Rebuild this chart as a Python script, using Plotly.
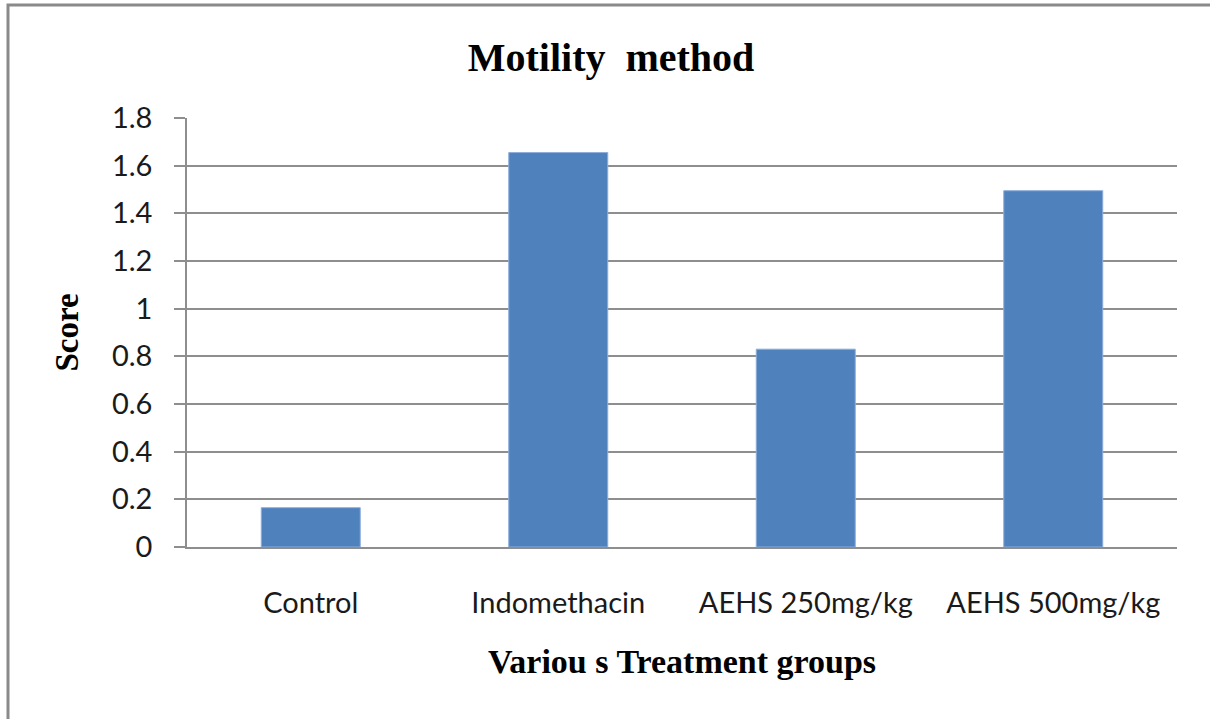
import plotly.graph_objects as go

categories = ["Control", "Indomethacin", "AEHS 250mg/kg", "AEHS 500mg/kg"]
scores = [0.165, 1.655, 0.83, 1.495]
y_ticks = [0, 0.2, 0.4, 0.6, 0.8, 1.0, 1.2, 1.4, 1.6, 1.8]
y_tick_labels = ["0", "0.2", "0.4", "0.6", "0.8", "1", "1.2", "1.4", "1.6", "1.8"]

W, H = 1210, 719
L, R, T, B = 187, 33, 118, 172
pw, ph = W - L - R, H - T - B

def px_to_paper_x(px):
    return (px - L) / pw

def px_to_paper_y(py):
    return (H - B - py) / ph

fig = go.Figure()
fig.add_trace(go.Bar(
    x=categories, y=scores,
    marker=dict(color="#4f81bd", line=dict(color="#8eaedb", width=1)),
))

grid = "#8e8e8e"
tick_font = dict(family="Lato, Liberation Sans", size=29, color="#1a1a1a")
fig.update_layout(
    width=W, height=H,
    margin=dict(l=L, r=R, t=T, b=B, autoexpand=False),
    paper_bgcolor="white", plot_bgcolor="white",
    bargap=0.6,
    showlegend=False,
    title=dict(
        text="Motility&nbsp;&nbsp;method",
        font=dict(family="Liberation Serif", size=40, color="black", weight="bold"),
        x=0.505, xanchor="center", xref="container",
        y=1 - 57 / H, yanchor="middle", yref="container",
    ),
    xaxis=dict(
        showgrid=False, showline=True, linecolor=grid, linewidth=1.5,
        ticks="", tickfont=tick_font,
        ticklabelstandoff=29,
        title=dict(text="Variou s Treatment groups",
                   font=dict(family="Liberation Serif", size=34, color="black", weight="bold"),
                   standoff=32),
    ),
    yaxis=dict(
        range=[0, 1.8], tickvals=y_ticks, ticktext=y_tick_labels,
        showgrid=True, gridcolor=grid, gridwidth=1.5,
        showline=True, linecolor=grid, linewidth=1.5,
        ticks="outside", ticklen=11, tickcolor=grid, tickwidth=1.5,
        ticklabelstandoff=16,
        tickfont=tick_font,
        zeroline=False,
        title=dict(text="Score",
                   font=dict(family="Liberation Serif", size=33, color="black", weight="bold"),
                   standoff=23),
    ),
    shapes=[dict(
        type="path", xref="paper", yref="paper",
        path=f"M {px_to_paper_x(8)} {px_to_paper_y(740)} L {px_to_paper_x(8)} {px_to_paper_y(5)} L {px_to_paper_x(1230)} {px_to_paper_y(5)}",
        line=dict(color="#8a8a8a", width=3),
    )],
)

fig.write_html(
    "out.html",
    config={"displayModeBar": False},
    post_script="document.body.style.margin='0';document.body.style.overflow='hidden';",
)
